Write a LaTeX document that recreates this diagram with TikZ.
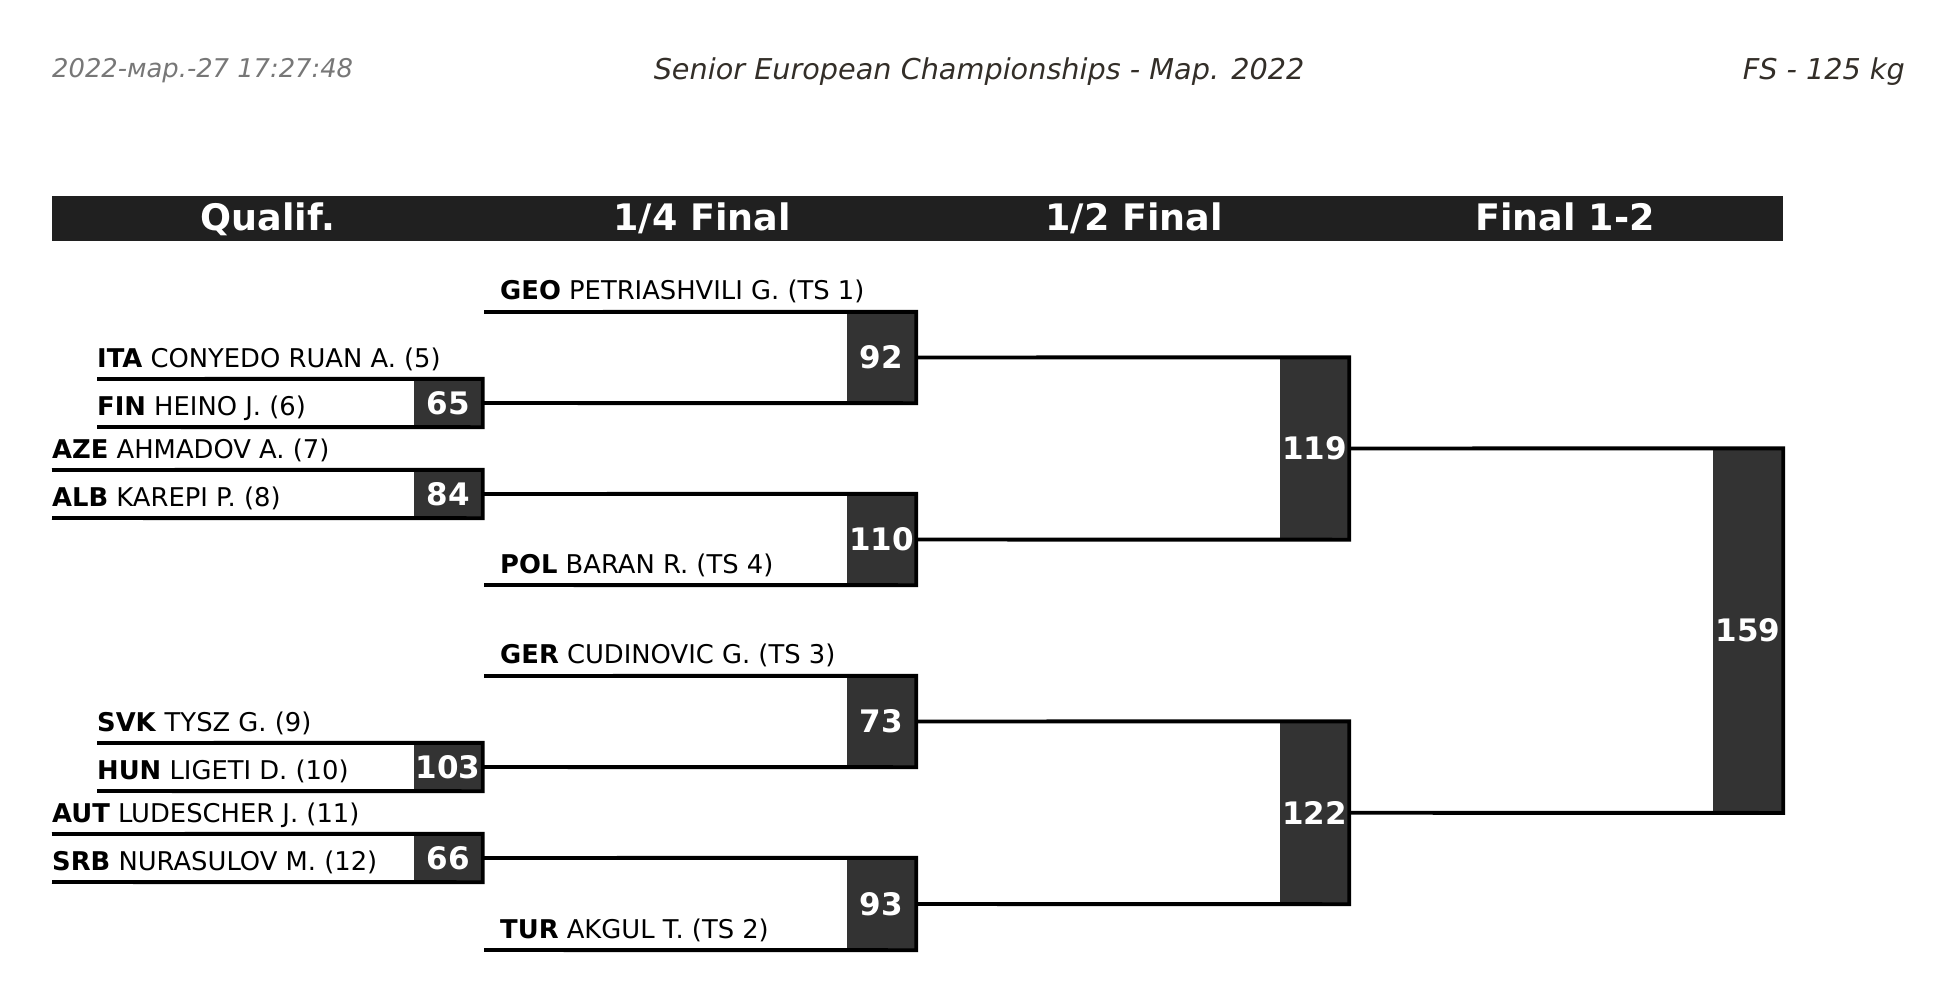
\documentclass[tikz,border=0pt]{standalone}
\usepackage{fontspec}
\setmainfont{DejaVu Sans}
\definecolor{hdrbg}{HTML}{202020}
\definecolor{boxbg}{HTML}{333333}
\definecolor{titlec}{HTML}{332E28}
\definecolor{datec}{HTML}{777777}
\newcommand\entr[2]{\textbf{#1} #2}
\tikzset{
  wire/.style={line width=3.9pt, black, line join=miter},
  score/.style={fill=boxbg, draw=none, text=white, inner sep=0pt, minimum width=69pt,
    font=\fontsize{31}{31}\selectfont\bfseries},
  entrant/.style={anchor=base west, inner sep=0pt, font=\fontsize{25.8}{26}\selectfont},
  colhead/.style={anchor=base, inner sep=0pt, text=white, font=\fontsize{36.5}{37}\selectfont\bfseries},
  hdrbar/.style={fill=hdrbg, draw=none, inner sep=0pt, minimum width=1731pt, minimum height=45pt},
  toptext/.style={inner sep=0pt, font=\fontsize{28.7}{29}\selectfont\itshape, text=titlec},
}
\begin{document}
\begin{tikzpicture}[x=1pt,y=-1pt]
\useasboundingbox (0,0) rectangle (1946,1004);

% top texts
\node[toptext, anchor=base west, text=datec, font=\fontsize{25.8}{26}\selectfont\itshape] (date) at (52,77) {2022-мар.-27 17:27:48};
\node[toptext, anchor=base] (title) at (979,79) {Senior European Championships - Мар. 2022};
\node[toptext, anchor=base east] (cat) at (1905,79) {FS - 125 kg};

% header bar
\node[hdrbar] (bar) at (917.5,218.5) {};
\node[colhead] (h1) at (268,230) {Qualif.};
\node[colhead] (h2) at (702,230) {1/4 Final};
\node[colhead] (h3) at (1134,230) {1/2 Final};
\node[colhead] (h4) at (1565,230) {Final 1-2};

% entrant names
\node[entrant] (nGEO) at (500,299.5) {\entr{GEO}{PETRIASHVILI G. (TS 1)}};
\node[entrant] (nITA) at (97,367) {\entr{ITA}{CONYEDO RUAN A. (5)}};
\node[entrant] (nFIN) at (97,415) {\entr{FIN}{HEINO J. (6)}};
\node[entrant] (nAZE) at (52,458) {\entr{AZE}{AHMADOV A. (7)}};
\node[entrant] (nALB) at (52,506) {\entr{ALB}{KAREPI P. (8)}};
\node[entrant] (nPOL) at (500,573) {\entr{POL}{BARAN R. (TS 4)}};
\node[entrant] (nGER) at (500,663.5) {\entr{GER}{CUDINOVIC G. (TS 3)}};
\node[entrant] (nSVK) at (97,731) {\entr{SVK}{TYSZ G. (9)}};
\node[entrant] (nHUN) at (97,779) {\entr{HUN}{LIGETI D. (10)}};
\node[entrant] (nAUT) at (52,822) {\entr{AUT}{LUDESCHER J. (11)}};
\node[entrant] (nSRB) at (52,870) {\entr{SRB}{NURASULOV M. (12)}};
\node[entrant] (nTUR) at (500,938) {\entr{TUR}{AKGUL T. (TS 2)}};

% line starts
\coordinate (cGEO) at (484,312);
\coordinate (cITA) at (97,379);
\coordinate (cFIN) at (97,427);
\coordinate (cAZE) at (52,470);
\coordinate (cALB) at (52,518);
\coordinate (cPOL) at (484,585);
\coordinate (cGER) at (484,676);
\coordinate (cSVK) at (97,743);
\coordinate (cHUN) at (97,791);
\coordinate (cAUT) at (52,834);
\coordinate (cSRB) at (52,882);
\coordinate (cTUR) at (484,950);

% score boxes
\node[score, minimum height=48pt] (m65) at (448,403) {65};
\node[score, minimum height=48pt] (m84) at (448,494) {84};
\node[score, minimum height=91pt] (m92) at (881.5,357.5) {92};
\node[score, minimum height=91pt] (m110) at (881.5,539.5) {110};
\node[score, minimum height=182pt] (m119) at (1314.5,448.5) {119};
\node[score, minimum height=48pt] (m103) at (448,767) {103};
\node[score, minimum height=48pt] (m66) at (448,858) {66};
\node[score, minimum height=91pt] (m73) at (881.5,721.5) {73};
\node[score, minimum height=92pt] (m93) at (881.5,904) {93};
\node[score, minimum height=182.5pt] (m122) at (1314.5,812.75) {122};
\node[score, minimum width=70pt, minimum height=364.25pt] (m159) at (1748,630.625) {159};

% brackets
\draw[wire] (cITA) -- (m65.north east) -- (m65.south east) -- (cFIN);
\draw[wire] (cAZE) -- (m84.north east) -- (m84.south east) -- (cALB);
\draw[wire] (cGEO) -- (m92.north east) -- (m92.south east) -- (m65.east);
\draw[wire] (m84.east) -- (m110.north east) -- (m110.south east) -- (cPOL);
\draw[wire] (m92.east) -- (m119.north east) -- (m119.south east) -- (m110.east);

\draw[wire] (cSVK) -- (m103.north east) -- (m103.south east) -- (cHUN);
\draw[wire] (cAUT) -- (m66.north east) -- (m66.south east) -- (cSRB);
\draw[wire] (cGER) -- (m73.north east) -- (m73.south east) -- (m103.east);
\draw[wire] (m66.east) -- (m93.north east) -- (m93.south east) -- (cTUR);
\draw[wire] (m73.east) -- (m122.north east) -- (m122.south east) -- (m93.east);

\draw[wire] (m119.east) -- (m159.north east) -- (m159.south east) -- (m122.east);
\end{tikzpicture}
\end{document}
